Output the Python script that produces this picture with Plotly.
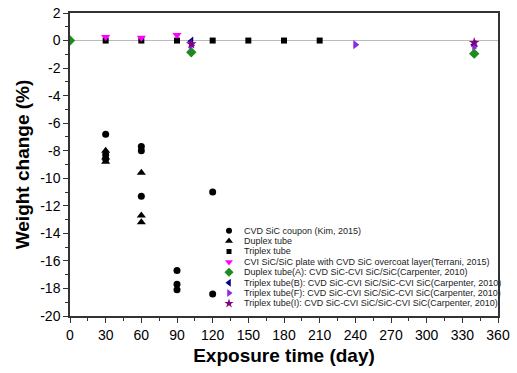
import plotly.graph_objects as go

# ---- data ----
cvd_x = [30, 30, 30, 60, 60, 60, 90, 90, 90, 120, 120]
cvd_y = [-6.8, -8.3, -8.6, -7.7, -8.0, -11.3, -16.7, -17.7, -18.1, -11.0, -18.4]

duplex_x = [30, 30, 30, 60, 60, 60]
duplex_y = [-8.0, -8.5, -8.8, -9.6, -12.7, -13.2]

triplex_x = [30, 60, 90, 120, 150, 180, 210]
triplex_y = [0, 0, 0, 0, 0, 0, 0]

terrani_x = [30, 60, 90]
terrani_y = [0.25, 0.2, 0.4]

carpA_x = [0, 102, 340]
carpA_y = [0, -0.85, -0.95]

carpB_x = [102, 340]
carpB_y = [-0.05, -0.3]

carpF_x = [102, 240, 340]
carpF_y = [-0.35, -0.3, -0.4]

carpI_x = [102, 340]
carpI_y = [-0.25, -0.15]

series_names = [
    "CVD SiC coupon (Kim, 2015)",
    "Duplex tube",
    "Triplex tube",
    "CVI SiC/SiC plate with CVD SiC overcoat layer(Terrani, 2015)",
    "Duplex tube(A): CVD SiC-CVI SiC/SiC(Carpenter, 2010)",
    "Triplex tube(B): CVD SiC-CVI SiC/SiC-CVI SiC(Carpenter, 2010)",
    "Triplex tube(F): CVD SiC-CVI SiC/SiC-CVI SiC(Carpenter, 2010)",
    "Triplex tube(I): CVD SiC-CVI SiC/SiC-CVI SiC(Carpenter, 2010)",
]

x_ticks = [0, 30, 60, 90, 120, 150, 180, 210, 240, 270, 300, 330, 360]
y_ticks = [2, 0, -2, -4, -6, -8, -10, -12, -14, -16, -18, -20]

# ---- styles ----
styles = [
    dict(symbol="circle", color="black", size=7),
    dict(symbol="triangle-up", color="black", size=8),
    dict(symbol="square", color="black", size=6),
    dict(symbol="triangle-down", color="#FF00FF", size=8),
    dict(symbol="diamond", color="#1E8B1E", size=8),
    dict(symbol="triangle-left", color="#000080", size=8),
    dict(symbol="triangle-right", color="#8A2BE2", size=8),
    dict(symbol="star", color="#800080", size=8),
]

data_sets = [
    (cvd_x, cvd_y), (duplex_x, duplex_y), (triplex_x, triplex_y),
    (terrani_x, terrani_y), (carpA_x, carpA_y), (carpB_x, carpB_y),
    (carpF_x, carpF_y), (carpI_x, carpI_y),
]

fig = go.Figure()
for (xs, ys), st, name in zip(data_sets, styles, series_names):
    fig.add_trace(go.Scatter(
        x=xs, y=ys, mode="markers", name=name, showlegend=False,
        marker=dict(symbol=st["symbol"], color=st["color"], size=st["size"],
                    line=dict(width=0)),
    ))

# ---- custom compact legend ----
leg_x = 0.3715
leg_y0 = 0.2815
leg_dy = 0.0343
for i, (st, name) in enumerate(zip(styles, series_names)):
    yy = leg_y0 - i * leg_dy
    fig.add_trace(go.Scatter(
        x=[leg_x], y=[yy], xaxis="x2", yaxis="y2", mode="markers",
        showlegend=False, hoverinfo="skip",
        marker=dict(symbol=st["symbol"], color=st["color"],
                    size=st["size"] - 1, line=dict(width=0)),
    ))
    fig.add_annotation(
        x=leg_x + 0.030, y=yy, xref="paper", yref="paper", text=name,
        showarrow=False, xanchor="left", yanchor="middle",
        font=dict(family="Liberation Sans, Arial", size=9, color="#222"),
    )

axis_font = dict(family="Liberation Sans, Arial", size=14, color="black")
title_font = dict(family="Liberation Sans, Arial", size=19, color="black")

fig.update_layout(
    width=517, height=373,
    margin=dict(l=70, r=19, t=13, b=57),
    paper_bgcolor="white", plot_bgcolor="white",
    xaxis=dict(
        range=[0, 360], tickvals=x_ticks, ticktext=[str(v) for v in x_ticks],
        ticks="outside", ticklen=5, tickwidth=1.2, tickcolor="#333",
        minor=dict(dtick=15, tick0=0, ticks="outside", ticklen=3, tickcolor="#333", showgrid=False),
        showline=True, linecolor="#333", linewidth=1.5, mirror=True,
        showgrid=False, zeroline=False, tickfont=axis_font, automargin=False,
        title=dict(text="<b>Exposure time (day)</b>", font=title_font, standoff=7),
    ),
    yaxis=dict(
        range=[-20, 2], tickvals=y_ticks, ticktext=[str(v) for v in y_ticks],
        ticks="outside", ticklen=5, tickwidth=1.2, tickcolor="#333",
        minor=dict(dtick=1, tick0=0, ticks="outside", ticklen=3, tickcolor="#333", showgrid=False),
        showline=True, linecolor="#333", linewidth=1.5, mirror=True,
        showgrid=False, zeroline=True, zerolinecolor="#BBBBBB", zerolinewidth=1,
        tickfont=axis_font, automargin=False,
        title=dict(text="<b>Weight change (%)</b>", font=title_font, standoff=6),
    ),
    xaxis2=dict(range=[0, 1], overlaying="x", visible=False),
    yaxis2=dict(range=[0, 1], overlaying="y", visible=False),
    showlegend=False,
)

fig.write_html("out.html")
